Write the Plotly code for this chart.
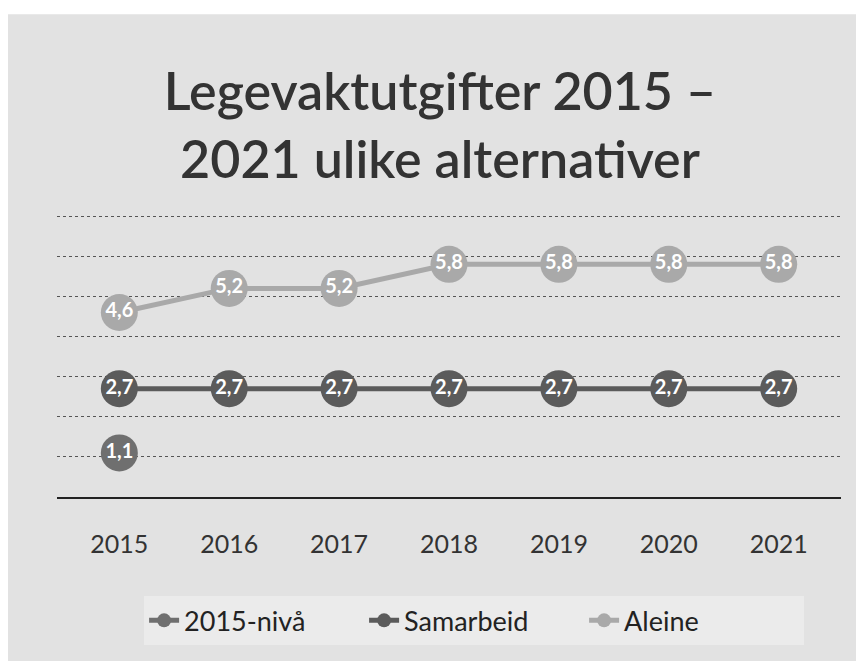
import plotly.graph_objects as go

years = ["2015", "2016", "2017", "2018", "2019", "2020", "2021"]
niva_2015 = [1.1, None, None, None, None, None, None]
samarbeid = [2.7, 2.7, 2.7, 2.7, 2.7, 2.7, 2.7]
aleine = [4.6, 5.2, 5.2, 5.8, 5.8, 5.8, 5.8]

def labels(vals):
    return [("" if v is None else f"{v:.1f}".replace(".", ",")) for v in vals]

series = [
    ("2015-nivå", niva_2015, "#6f6f6f"),
    ("Samarbeid", samarbeid, "#5b5b5b"),
    ("Aleine", aleine, "#a9a9a9"),
]

fig = go.Figure()
for name, vals, color in series:
    fig.add_trace(go.Scatter(
        x=years, y=vals, name=name, mode="lines+markers+text",
        line=dict(color=color, width=5),
        marker=dict(color=color, size=37, symbol="circle"),
        text=labels(vals), textposition="middle center",
        textfont=dict(color="white", size=20, family="Lato, sans-serif", weight="bold"),
        cliponaxis=False, showlegend=False, legendgroup=name,
    ))
# legend entries with small markers, as in the original legend
for name, vals, color in series:
    fig.add_trace(go.Scatter(
        x=[years[0]], y=[None], name=name, mode="lines+markers",
        line=dict(color=color, width=5),
        marker=dict(color=color, size=14, symbol="circle"),
        showlegend=True, legendgroup=name, hoverinfo="skip",
    ))

fig.update_layout(
    width=864, height=661,
    margin=dict(l=49, r=31, t=205, b=172, autoexpand=False),
    paper_bgcolor="#e2e2e2",
    plot_bgcolor="rgba(0,0,0,0)",
    title=dict(
        text="Legevaktutgifter 2015 –<br>2021 ulike alternativer",
        x=0.5, xanchor="center", y=0.845, yanchor="middle",
        font=dict(family="Lato, sans-serif", size=52, color="#333333", weight=600),
    ),
    xaxis=dict(
        showgrid=False, showline=True, linecolor="#222222", linewidth=2,
        ticks="", tickfont=dict(family="Lato, sans-serif", size=25, color="#333333"),
        ticklabelstandoff=24,
    ),
    yaxis=dict(
        range=[0, 7.08], dtick=1, showticklabels=False,
        showgrid=True, gridcolor="#555555", griddash="dot", gridwidth=1,
        zeroline=False, showline=False,
    ),
    legend=dict(
        orientation="h", x=0.532, xanchor="center", y=-0.436, yanchor="middle",
        bgcolor="#ebebeb",
        font=dict(family="Lato, sans-serif", size=27, color="#222222"),
        entrywidth=175, entrywidthmode="pixels", itemsizing="trace",
    ),
    showlegend=True,
    shapes=[
        dict(type="rect", xref="paper", yref="paper", x0=-0.1, x1=1.1,
             y0=1.7, y1=1.9, fillcolor="white", line=dict(width=0), layer="below"),
    ],
)

fig.write_html("out.html")
